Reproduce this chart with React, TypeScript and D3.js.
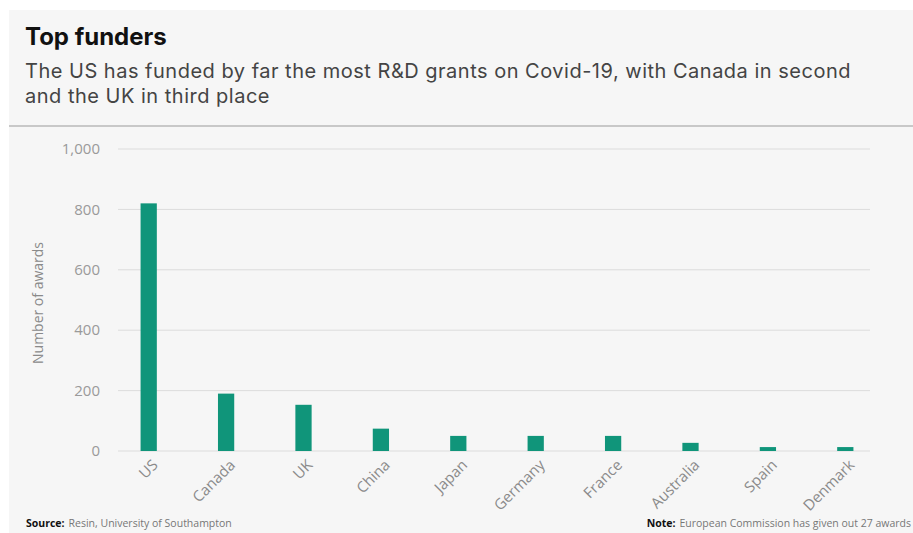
import React from "react";
import * as d3 from "d3";

const countries = ["US", "Canada", "UK", "China", "Japan", "Germany", "France", "Australia", "Spain", "Denmark"];
const awards = [820, 190, 153, 74, 50, 50, 50, 27, 13, 13];
const yTicks = [0, 200, 400, 600, 800, 1000];

const titleText = "Top funders";
const subtitleLines = [
  "The US has funded by far the most R&D grants on Covid-19, with Canada in second",
  "and the UK in third place",
];
const yAxisLabel = "Number of awards";
const sourceLabel = "Source:";
const sourceText = "Resin, University of Southampton";
const noteLabel = "Note:";
const noteText = "European Commission has given out 27 awards";

const W = 913;
const H = 533;
const BAR_COLOR = "#10957a";
const FONT = "'Open Sans', 'Noto Sans', sans-serif";
const HEAD_FONT = "Inter, 'Open Sans', sans-serif";

export default function App() {
  const x = d3
    .scaleBand<string>()
    .domain(countries)
    .range([110, 884])
    .paddingInner(0.79)
    .paddingOuter(0.395);
  const y = d3.scaleLinear().domain([0, 1000]).range([451, 149]);
  const fmt = d3.format(",");
  const gridX0 = 118;
  const gridX1 = 870;

  return (
    <svg
      width={W}
      height={H}
      style={{ position: "absolute", left: 0, top: 0, display: "block" }}
    >
      <rect x={0} y={0} width={W} height={H} fill="#ffffff" />
      <rect x={9} y={10} width={W - 9} height={H - 10} fill="#f6f6f6" />

      <text x={25} y={45} fontFamily={HEAD_FONT} fontWeight={700} fontSize={24} letterSpacing={0} fill="#111">
        {titleText}
      </text>
      {subtitleLines.map((l, i) => (
        <text key={i} x={25} y={78 + i * 25} fontFamily={HEAD_FONT} fontSize={20} letterSpacing={0.5} fill="#444">
          {l}
        </text>
      ))}
      <line x1={9} x2={W} y1={126} y2={126} stroke="#c8c8c8" strokeWidth={2} />

      {yTicks.map((t) => (
        <g key={t}>
          <line x1={gridX0} x2={gridX1} y1={y(t)} y2={y(t)} stroke="#dcdcdc" strokeWidth={1} />
          <text x={100} y={y(t)} dy="0.35em" textAnchor="end" fontFamily={FONT} fontSize={15} fill="#9a9a9a">
            {fmt(t)}
          </text>
        </g>
      ))}

      <text
        transform={`translate(38,${(y(0) + y(1000)) / 2 + 3}) rotate(-90)`}
        textAnchor="middle"
        dy="0.35em"
        fontFamily={FONT}
        fontSize={14}
        fill="#8a8a8a"
      >
        {yAxisLabel}
      </text>

      {countries.map((c, i) => (
        <rect
          key={c}
          x={x(c)}
          y={y(awards[i])}
          width={x.bandwidth()}
          height={y(0) - y(awards[i])}
          fill={BAR_COLOR}
        />
      ))}

      {countries.map((c) => {
        const cx = (x(c) as number) + x.bandwidth() / 2;
        return (
          <text
            key={c}
            transform={`translate(${cx + 10},466) rotate(-45)`}
            textAnchor="end"
            fontFamily={FONT}
            fontSize={15}
            fill="#8a8a8a"
          >
            {c}
          </text>
        );
      })}

      <text x={26} y={527} fontFamily={FONT} fontSize={10.5} fill="#777">
        <tspan fontWeight={700} fill="#111">{sourceLabel}</tspan>
        <tspan dx={4}>{sourceText}</tspan>
      </text>
      <text x={911} y={527} textAnchor="end" fontFamily={FONT} fontSize={10.5} fill="#777">
        <tspan fontWeight={700} fill="#111">{noteLabel}</tspan>
        <tspan dx={4}>{noteText}</tspan>
      </text>
    </svg>
  );
}
